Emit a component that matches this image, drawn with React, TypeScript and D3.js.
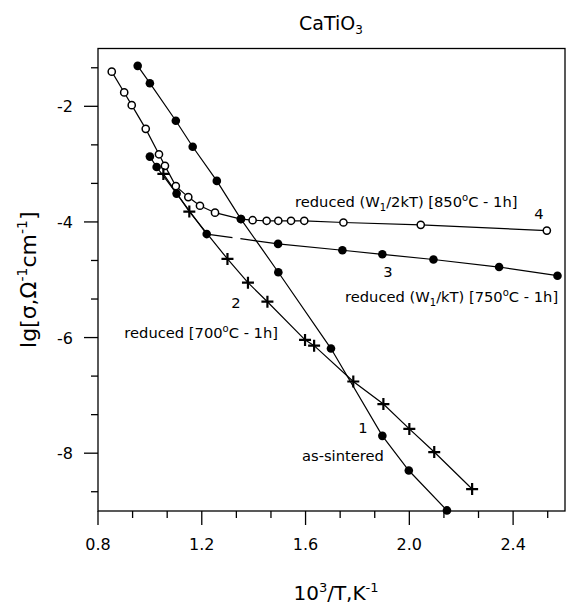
// CaTiO3 conductivity vs reciprocal temperature
import * as d3 from "d3";

// series 1: as-sintered (filled circles)
const asSinteredX = [0.953, 1.0, 1.10, 1.165, 1.258, 1.351, 1.495, 1.698, 1.896, 1.998, 2.145];
const asSinteredY = [-1.30, -1.60, -2.25, -2.70, -3.29, -3.95, -4.87, -6.19, -7.70, -8.30, -8.99];

// series 2: reduced 700C (crosses)
const red700X = [1.052, 1.152, 1.299, 1.378, 1.453, 1.598, 1.633, 1.784, 1.900, 2.000, 2.096, 2.242];
const red700Y = [-3.17, -3.82, -4.64, -5.05, -5.38, -6.04, -6.14, -6.76, -7.15, -7.58, -7.98, -8.62];

// series 3: reduced (W1/kT) 750C (filled circles)
const red750X = [1.0, 1.026, 1.103, 1.219, 1.494, 1.742, 1.896, 2.093, 2.346, 2.571];
const red750Y = [-2.87, -3.05, -3.51, -4.21, -4.38, -4.49, -4.56, -4.65, -4.78, -4.93];

// series 4: reduced (W1/2kT) 850C (open circles)
const red850X = [0.853, 0.901, 0.930, 0.984, 1.035, 1.058, 1.10, 1.148, 1.193, 1.251, 1.351, 1.396, 1.450, 1.495, 1.544, 1.595, 1.746, 2.044, 2.530];
const red850Y = [-1.40, -1.76, -1.98, -2.39, -2.83, -3.03, -3.38, -3.57, -3.72, -3.84, -3.95, -3.97, -3.98, -3.98, -3.98, -3.98, -4.01, -4.05, -4.15];

// axis ticks
const xMajor = [0.8, 1.2, 1.6, 2.0, 2.4];
const yMajor = [-8, -6, -4, -2];

const W = 567;
const H = 605;
const FONT = "'DejaVu Sans', 'Liberation Sans', Arial, sans-serif";

type Pt = [number, number];
const zip = (xs: number[], ys: number[]): Pt[] => xs.map((x, i) => [x, ys[i]]);

export default function App() {
  // scales
  const x = d3.scaleLinear().domain([0.8, 2.6]).range([98, 565]);
  const y = d3.scaleLinear().domain([-9, -1]).range([511, 48.5]);

  const line = d3.line<Pt>().x(d => x(d[0])).y(d => y(d[1]));

  const s1 = zip(asSinteredX, asSinteredY);
  const s2 = zip(red700X, red700Y);
  const s3 = zip(red750X, red750Y);
  const s4 = zip(red850X, red850Y);

  // minor ticks: thirds of the major step
  const isMajor = (v: number, start: number, step: number) => {
    const r = (v - start) / step;
    return Math.abs(r - Math.round(r)) < 0.01;
  };
  const xMinor = d3.range(0, 14).map(k => 0.8 + (k * 0.4) / 3).filter(v => v < 2.6 && !isMajor(v, 0.8, 0.4));
  const yMinor = d3.range(0, 14).map(k => -10 + (k * 2) / 3).filter(v => v > -9 && v < -1 && !isMajor(v, -2, 2));

  // series 3 is dashed between its 4th and 5th point
  const s3a = s3.slice(0, 4);
  const s3b = s3.slice(3, 5);
  const s3c = s3.slice(4);

  const [left, right] = x.range();
  const [bottom, top] = y.range();

  return (
    <svg width={W} height={H} style={{ position: "absolute", left: 0, top: 0, background: "#fff" }} fontFamily={FONT}>
      {/* title */}
      <text x={331} y={30} textAnchor="middle" fontSize={19}>
        CaTiO<tspan fontSize={12} dy={4}>3</tspan>
      </text>

      {/* frame */}
      <rect x={left} y={top} width={right - left} height={bottom - top} fill="none" stroke="#000" strokeWidth={1.3} />

      {/* x ticks */}
      {xMajor.map(v => (
        <g key={"xm" + v}>
          <line x1={x(v)} x2={x(v)} y1={bottom} y2={bottom + 14} stroke="#000" strokeWidth={1.3} />
          <text x={x(v)} y={550} textAnchor="middle" fontSize={16}>{v.toFixed(1)}</text>
        </g>
      ))}
      {xMinor.map(v => (
        <line key={"xn" + v} x1={x(v)} x2={x(v)} y1={bottom} y2={bottom + 7} stroke="#000" strokeWidth={1.3} />
      ))}

      {/* y ticks */}
      {yMajor.map(v => (
        <g key={"ym" + v}>
          <line x1={left - 14} x2={left} y1={y(v)} y2={y(v)} stroke="#000" strokeWidth={1.3} />
          <text x={73} y={y(v) + 6} textAnchor="end" fontSize={16}>{v}</text>
        </g>
      ))}
      {yMinor.map(v => (
        <line key={"yn" + v} x1={left - 7} x2={left} y1={y(v)} y2={y(v)} stroke="#000" strokeWidth={1.3} />
      ))}

      {/* axis titles */}
      <text x={336} y={600} textAnchor="middle" fontSize={20}>
        10<tspan fontSize={13} dy={-8}>3</tspan><tspan dy={8}>/T,K</tspan><tspan fontSize={13} dy={-8}>-1</tspan>
      </text>
      <text transform={`translate(36,${(top + bottom) / 2}) rotate(-90)`} textAnchor="middle" fontSize={22}>
        lg[σ,Ω<tspan fontSize={14} dy={-9}>-1</tspan><tspan dy={9}>cm</tspan><tspan fontSize={14} dy={-9}>-1</tspan><tspan dy={9}>]</tspan>
      </text>

      {/* lines */}
      <g fill="none" stroke="#000" strokeWidth={1.2}>
        <path d={line(s1) ?? ""} />
        <path d={line(s2) ?? ""} />
        <path d={line(s3a) ?? ""} />
        <path d={line(s3b) ?? ""} strokeDasharray="26,8,200" />
        <path d={line(s3c) ?? ""} />
        <path d={line(s4) ?? ""} />
      </g>

      {/* markers */}
      {s4.map((d, i) => (
        <circle key={"o" + i} cx={x(d[0])} cy={y(d[1])} r={3.6} fill="#fff" stroke="#000" strokeWidth={1.5} />
      ))}
      {s3.map((d, i) => (
        <circle key={"f3" + i} cx={x(d[0])} cy={y(d[1])} r={4.3} fill="#000" />
      ))}
      {s1.map((d, i) => (
        <circle key={"f1" + i} cx={x(d[0])} cy={y(d[1])} r={4.3} fill="#000" />
      ))}
      {s2.map((d, i) => (
        <path key={"c" + i} d={`M${x(d[0]) - 6},${y(d[1])}h12M${x(d[0])},${y(d[1]) - 6}v12`} stroke="#000" strokeWidth={2.2} />
      ))}

      {/* annotations */}
      <g fontSize={14.7}>
        <text x={295} y={207}>reduced (W<tspan fontSize={10} dy={4}>1</tspan><tspan dy={-4}>/2kT) [850</tspan><tspan fontSize={10} dy={-6}>o</tspan><tspan dy={6}>C - 1h]</tspan></text>
        <text x={539} y={219} textAnchor="middle">4</text>
        <text x={388} y={277} textAnchor="middle">3</text>
        <text x={345} y={302}>reduced (W<tspan fontSize={10} dy={4}>1</tspan><tspan dy={-4}>/kT) [750</tspan><tspan fontSize={10} dy={-6}>o</tspan><tspan dy={6}>C - 1h]</tspan></text>
        <text x={236} y={308} textAnchor="middle">2</text>
        <text x={278} y={338} textAnchor="end">reduced [700<tspan fontSize={10} dy={-6}>o</tspan><tspan dy={6}>C - 1h]</tspan></text>
        <text x={363} y={433} textAnchor="middle">1</text>
        <text x={302} y={461}>as-sintered</text>
      </g>
    </svg>
  );
}
